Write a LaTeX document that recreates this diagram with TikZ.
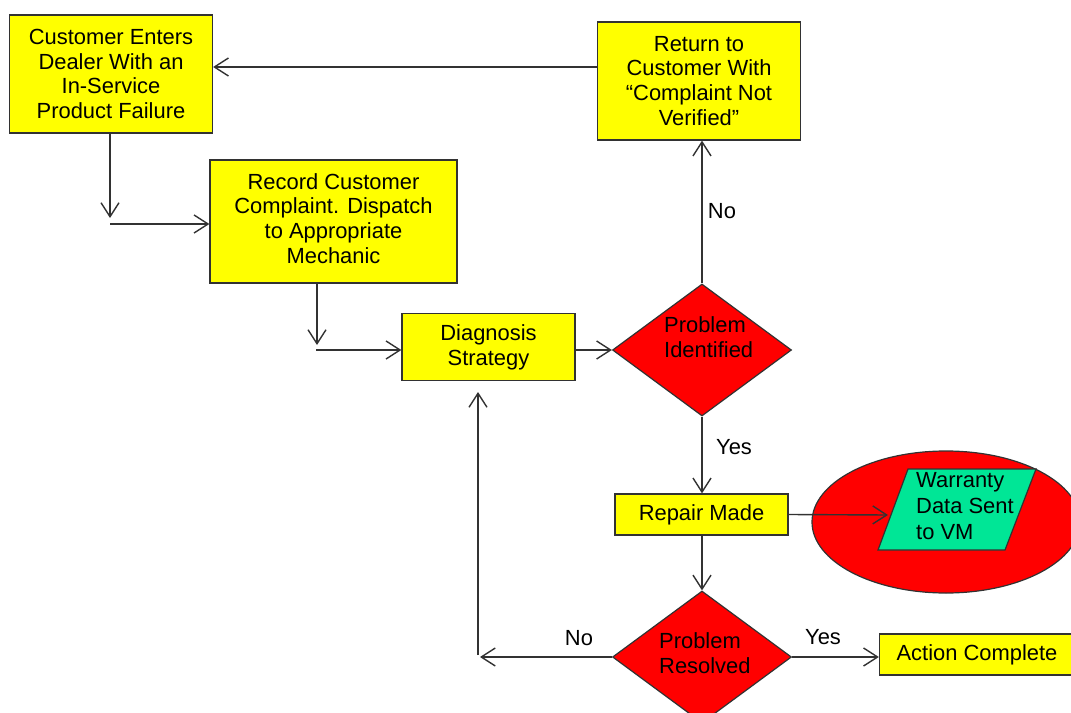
\documentclass[tikz,border=0pt]{standalone}
\usepackage{fontspec}
\setmainfont{Liberation Sans}
\usetikzlibrary{shapes.geometric,arrows.meta,calc}
\definecolor{lineg}{RGB}{50,50,50}
\definecolor{boxy}{RGB}{255,255,0}
\definecolor{redf}{RGB}{255,0,0}
\definecolor{wgreen}{RGB}{0,230,150}
\begin{document}
\begin{tikzpicture}[x=1bp,y=-1bp,
  box/.style={rectangle, draw=lineg, fill=boxy, line width=1.3bp, align=center, inner sep=0pt, font=\fontsize{22}{25}\selectfont},
  dec/.style={diamond, draw=lineg, fill=redf, line width=1.2bp, inner sep=0pt, minimum width=179bp, minimum height=132bp},
  txt/.style={inner sep=0pt, align=left, font=\fontsize{22}{25}\selectfont},
  lbl/.style={inner sep=0pt, font=\fontsize{22}{25}\selectfont},
  arr/.style={draw=lineg, line width=1.4bp, -{Straight Barb[length=14bp,width=18bp]}}]
\useasboundingbox (0,0) rectangle (1071,713);
\clip (0,0) rectangle (1071,713);
% boxes
\node[box, minimum width=203bp, minimum height=118bp] (cust) at (111,74) {Customer Enters\\Dealer With an\\In-Service\\Product Failure};
\node[box, minimum width=203bp, minimum height=118bp] (ret) at (699,81) {Return to\\Customer With\\“Complaint Not\\Verified”};
\node[box, minimum width=247bp, minimum height=123bp, text depth=6bp] (rec) at (333.5,221.5) {Record Customer\\Complaint. Dispatch\\to Appropriate\\Mechanic};
\node[box, minimum width=173bp, minimum height=67bp] (diag) at (488.5,347) {Diagnosis\\Strategy};
\node[dec] (dec1) at (702,350) {};
\node[txt, anchor=west] (dec1t) at (664,337.5) {Problem\\Identified};
\node[box, minimum width=173bp, minimum height=41bp] (rep) at (701.5,514.5) {Repair Made};
\node[ellipse, draw=lineg, fill=redf, line width=1.2bp, minimum width=268bp, minimum height=142bp, inner sep=0pt] (ell) at (946,522) {};
\draw[draw=lineg, fill=wgreen, line width=1.2bp] (908,469) -- (1036,469) -- (1005,550) -- (878,550) -- cycle;
\node[txt, anchor=west, font=\fontsize{22}{26}\selectfont] (wt) at (916,506) {Warranty\\Data Sent\\to VM};
\coordinate (wleft) at (888,515);
\node[dec] (dec2) at (702,657) {};
\node[txt, anchor=west] (dec2t) at (659,653.5) {Problem\\Resolved};
\node[box, minimum width=195bp, minimum height=41bp] (act) at (977,654.5) {Action Complete};
% labels
\node[lbl, anchor=base] (no1) at (722,218) {No};
\node[lbl, anchor=base] (yes1) at (734,454) {Yes};
\node[lbl, anchor=base] (yes2) at (823,644) {Yes};
\node[lbl, anchor=base] (no2) at (579,645) {No};
% connectors
\draw[arr] ($(ret.west)+(0,-14)$) -- ($(cust.east)+(0,-7)$);
\coordinate (c1) at (110,218);
\draw[arr] (cust.south -| c1) -- (c1);
\coordinate (c2) at (110,224);
\draw[arr] (c2) -- (c2 -| rec.west);
\coordinate (c3) at (317,345);
\draw[arr] (c3 |- rec.south) -- (c3);
\coordinate (c4) at (316,350);
\draw[arr] (c4) -- (c4 -| diag.west);
\draw[arr] (dec1.west -| diag.east) -- (dec1.west);
\draw[arr] (dec1.north) -- (dec1.north |- ret.south);
\draw[arr] (dec1.south) -- (dec1.south |- rep.north);
\draw[arr] (rep.east) -- (wleft);
\draw[arr] (rep.south -| dec2.north) -- (dec2.north);
\draw[arr] (dec2.east) -- (dec2.east -| act.west);
\coordinate (c5) at (480,657);
\draw[arr] (dec2.west) -- (c5);
\coordinate (c6) at (478,655);
\coordinate (c7) at (478,392);
\draw[arr] (c6) -- (c7);
\end{tikzpicture}
\end{document}
